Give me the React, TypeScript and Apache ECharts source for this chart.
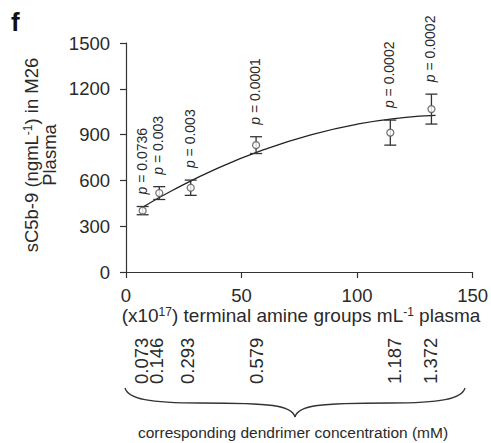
import React, { useEffect, useRef } from "react";
import * as echarts from "echarts";

// ---- data ----
const xValues = [7.2, 14.4, 28, 56.3, 114.4, 132.2]; // x10^17 terminal amine groups / mL
const means = [402, 517, 552, 831, 913, 1067]; // sC5b-9 ng/mL
const errors = [27, 42, 50, 55, 82, 98];
const pValues = ["0.0736", "0.003", "0.003", "0.0001", "0.0002", "0.0002"];
const concentrations = ["0.073", "0.146", "0.293", "0.579", "1.187", "1.372"]; // mM
const trendX = [7.2, 20, 40, 60, 80, 100, 120, 134];
const trendY = [424, 534, 682, 803, 899, 968, 1011, 1026];
const xTicks = { min: 0, max: 150, interval: 50 };
const yTicks = { min: 0, max: 1500, interval: 300 };

const FONT = "'Liberation Sans', Arial, Helvetica, sans-serif";
const INK = "#2a2a2a";
const LINE = "#333";
const concNudge = [-1, -3, -3, 0, 4, -1];

export default function App() {
  const ref = useRef<HTMLDivElement>(null);
  useEffect(() => {
    if (!ref.current) return;
    const chart = echarts.init(ref.current, null, { renderer: "svg" });
    const errData = xValues.map((x, i) => [x, means[i] - errors[i], means[i] + errors[i], i]);
    const concData = xValues.map((x, i) => [x, i]);
    const option: any = {
      animation: false,
      backgroundColor: "#fff",
      textStyle: { fontFamily: FONT },
      grid: { left: 126, right: 17, top: 43, bottom: 171 },
      xAxis: {
        type: "value",
        min: xTicks.min,
        max: xTicks.max,
        interval: xTicks.interval,
        axisLine: { show: true, onZero: false, lineStyle: { color: LINE, width: 1.2 } },
        axisTick: { show: true, inside: false, length: 6, lineStyle: { color: LINE, width: 1.2 } },
        axisLabel: { fontSize: 18.5, color: INK, margin: 14, fontFamily: FONT, formatter: (v: number) => String(v) },
        splitLine: { show: false },
      },
      yAxis: {
        type: "value",
        min: yTicks.min,
        max: yTicks.max,
        interval: yTicks.interval,
        axisLine: { show: true, onZero: false, lineStyle: { color: LINE, width: 1.2 } },
        axisTick: { show: true, inside: false, length: 6, lineStyle: { color: LINE, width: 1.2 } },
        axisLabel: { fontSize: 18.5, color: INK, margin: 16, fontFamily: FONT, formatter: (v: number) => String(v) },
        splitLine: { show: false },
      },
      series: [
        {
          type: "line",
          data: trendX.map((x, i) => [x, trendY[i]]),
          smooth: true,
          showSymbol: false,
          symbol: "none",
          lineStyle: { color: "#222", width: 1.3 },
          z: 2,
        },
        {
          type: "custom",
          clip: false,
          z: 3,
          data: errData,
          renderItem: (params: any, api: any) => {
            const x = api.value(0);
            const lo = api.value(1);
            const hi = api.value(2);
            const i = api.value(3);
            const pl = api.coord([x, lo]);
            const ph = api.coord([x, hi]);
            const w = 6;
            const st = { stroke: LINE, lineWidth: 1.3 };
            return {
              type: "group",
              children: [
                { type: "line", shape: { x1: ph[0], y1: ph[1], x2: pl[0], y2: pl[1] }, style: st },
                { type: "line", shape: { x1: ph[0] - w, y1: ph[1], x2: ph[0] + w, y2: ph[1] }, style: st },
                { type: "line", shape: { x1: pl[0] - w, y1: pl[1], x2: pl[0] + w, y2: pl[1] }, style: st },
                {
                  type: "text",
                  x: ph[0] - 1,
                  y: ph[1] - 12,
                  rotation: Math.PI / 2,
                  style: {
                    text: "{it|p} = " + pValues[i],
                    rich: { it: { fontStyle: "italic", fontSize: 14, fontFamily: FONT, fill: INK } },
                    fontSize: 14,
                    fontFamily: FONT,
                    fill: INK,
                    align: "left",
                    verticalAlign: "middle",
                  },
                },
              ],
            };
          },
        },
        {
          type: "scatter",
          data: xValues.map((x, i) => [x, means[i]]),
          symbol: "circle",
          symbolSize: 7,
          itemStyle: { color: "#fff", borderColor: "#555", borderWidth: 1.3 },
          z: 4,
        },
        {
          type: "custom",
          clip: false,
          z: 3,
          data: concData,
          renderItem: (params: any, api: any) => {
            const x = api.value(0);
            const i = api.value(1);
            const p = api.coord([x, 0]);
            return {
              type: "text",
              x: p[0] + concNudge[i],
              y: 384,
              rotation: Math.PI / 2,
              style: {
                text: concentrations[i],
                fontSize: 18.5,
                fontFamily: FONT,
                fill: INK,
                align: "left",
                verticalAlign: "middle",
              },
            };
          },
        },
      ],
      graphic: [
        {
          type: "text",
          left: 11,
          top: 9,
          style: { text: "f", fontSize: 26, fontWeight: "bold", fontFamily: FONT, fill: "#111" },
        },
        {
          type: "text",
          x: 31,
          y: 155,
          rotation: Math.PI / 2,
          style: {
            text: "sC5b-9 (ngmL{sup|-1}) in M26",
            rich: { sup: { fontSize: 12, verticalAlign: "top", fontFamily: FONT, fill: INK } },
            fontSize: 18.5,
            fontFamily: FONT,
            fill: INK,
            align: "center",
            verticalAlign: "middle",
          },
        },
        {
          type: "text",
          x: 49,
          y: 155,
          rotation: Math.PI / 2,
          style: {
            text: "Plasma",
            fontSize: 18.5,
            fontFamily: FONT,
            fill: INK,
            align: "center",
            verticalAlign: "middle",
          },
        },
        {
          type: "text",
          x: 301,
          y: 315,
          style: {
            text: "(x10{sup|17}) terminal amine groups mL{sup|-1} plasma",
            rich: { sup: { fontSize: 12, verticalAlign: "top", fontFamily: FONT, fill: INK } },
            fontSize: 19,
            fontFamily: FONT,
            fill: INK,
            align: "center",
            verticalAlign: "middle",
          },
        },
        {
          type: "bezierCurve",
          shape: { x1: 125, y1: 388, cpx1: 128, cpy1: 399, cpx2: 150, cpy2: 403, x2: 200, y2: 403 },
          style: { stroke: LINE, lineWidth: 1.3, fill: "none" },
        },
        {
          type: "bezierCurve",
          shape: { x1: 200, y1: 403, cpx1: 270, cpy1: 403, cpx2: 292, cpy2: 405, x2: 295, y2: 417 },
          style: { stroke: LINE, lineWidth: 1.3, fill: "none" },
        },
        {
          type: "bezierCurve",
          shape: { x1: 295, y1: 417, cpx1: 298, cpy1: 405, cpx2: 320, cpy2: 403, x2: 390, y2: 403 },
          style: { stroke: LINE, lineWidth: 1.3, fill: "none" },
        },
        {
          type: "bezierCurve",
          shape: { x1: 390, y1: 403, cpx1: 440, cpy1: 403, cpx2: 462, cpy2: 399, x2: 465, y2: 388 },
          style: { stroke: LINE, lineWidth: 1.3, fill: "none" },
        },
        {
          type: "text",
          x: 293,
          y: 432,
          style: {
            text: "corresponding dendrimer concentration (mM)",
            fontSize: 15.5,
            fontFamily: FONT,
            fill: INK,
            align: "center",
            verticalAlign: "middle",
          },
        },
      ],
    };
    chart.setOption(option);
    return () => chart.dispose();
  }, []);
  return (
    <div
      ref={ref}
      style={{ position: "absolute", left: 0, top: 0, width: 491, height: 443, background: "#fff" }}
    />
  );
}
